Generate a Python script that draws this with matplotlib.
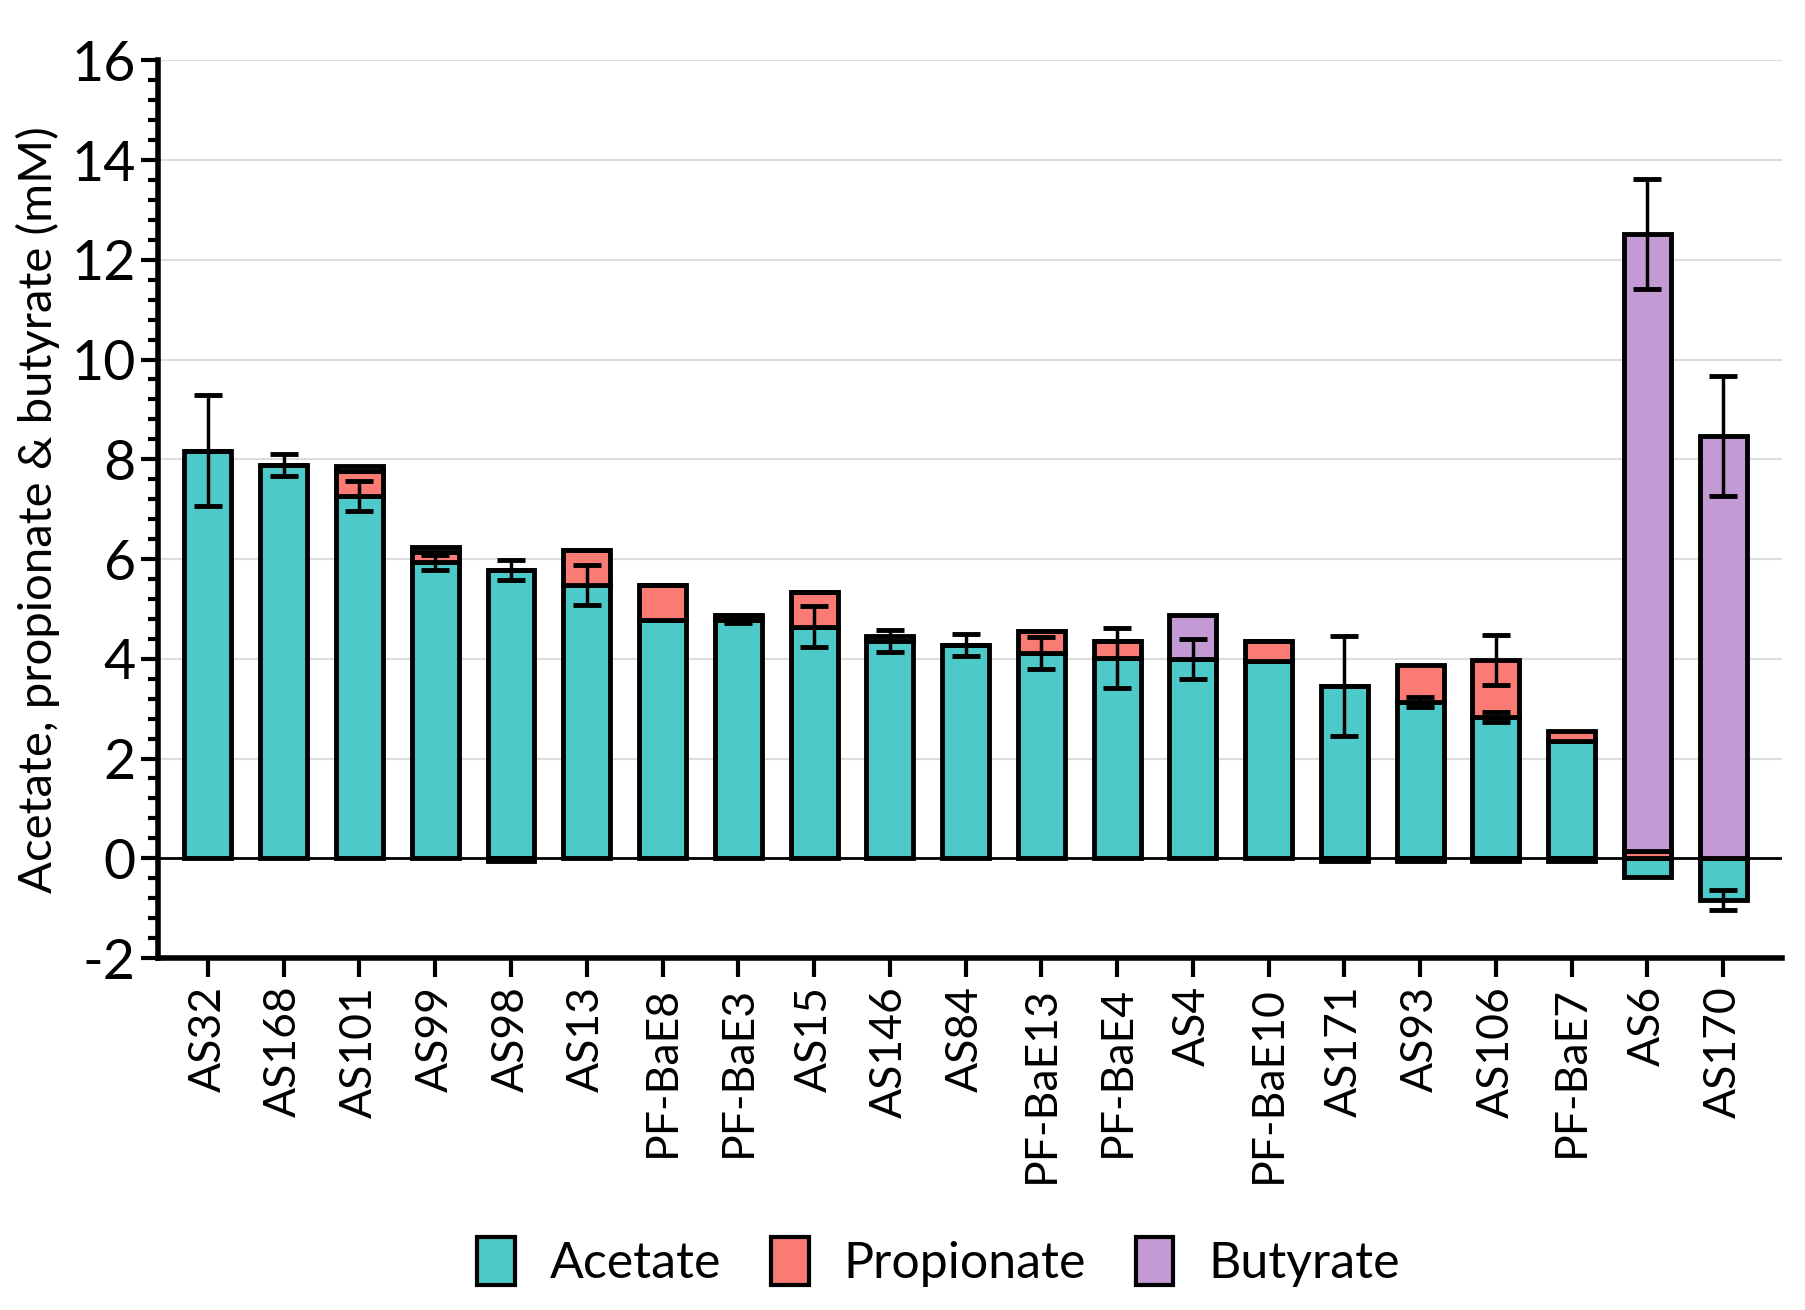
import matplotlib
matplotlib.use("Agg")
import matplotlib.pyplot as plt
import numpy as np
from matplotlib.patches import Patch
from matplotlib.ticker import AutoMinorLocator, MultipleLocator

plt.rcParams["font.family"] = ["Lato", "DejaVu Sans"]
plt.rcParams["axes.unicode_minus"] = False

strains = ["AS32", "AS168", "AS101", "AS99", "AS98", "AS13", "PF-BaE8", "PF-BaE3",
           "AS15", "AS146", "AS84", "PF-BaE13", "PF-BaE4", "AS4", "PF-BaE10",
           "AS171", "AS93", "AS106", "PF-BaE7", "AS6", "AS170"]

acetate = [8.17, 7.88, 7.26, 5.93, 5.78, 5.47, 4.77, 4.77, 4.64, 4.35, 4.27,
           4.11, 4.01, 4.00, 3.95, 3.46, 3.14, 2.83, 2.36, -0.37, -0.84]
propionate = [0, 0, 0.50, 0.22, 0, 0.71, 0.70, 0.10, 0.70, 0, 0,
              0.45, 0.34, 0, 0.40, 0, 0.73, 1.14, 0.20, 0.15, 0]
butyrate = [0, 0, 0.10, 0.10, -0.06, 0, 0, 0, 0, 0.10, 0,
            0, 0, 0.87, 0, -0.06, -0.06, -0.06, -0.06, 12.36, 8.47]

acetate_err = [1.11, 0.22, 0.30, 0.15, 0.20, 0.40, 0, 0.06, 0.41, 0.22, 0.22,
               0.32, 0.60, 0.40, 0, 1.00, 0.10, 0.10, 0, 0, 0.20]
propionate_err = [0, 0, 0, 0, 0, 0, 0, 0, 0, 0, 0,
                  0, 0, 0, 0, 0, 0, 0.50, 0, 0, 0]
butyrate_err = [0, 0, 0, 0, 0, 0, 0, 0, 0, 0, 0,
                0, 0, 0, 0, 0, 0, 0, 0, 1.10, 1.20]

series = [("Acetate", acetate, acetate_err, "#4ec9ca"),
          ("Propionate", propionate, propionate_err, "#fa7a74"),
          ("Butyrate", butyrate, butyrate_err, "#c49ad5")]

fig = plt.figure(figsize=(18.05, 13.10), dpi=100)
ax = fig.add_axes([0.0875, 0.2687, 0.8995, 0.6853])

x = np.arange(len(strains))
width = 0.62
pos_bottom = np.zeros(len(strains))
neg_bottom = np.zeros(len(strains))

# stack positives upward and negatives downward from zero
for name, vals, errs, color in series:
    vals = np.array(vals, dtype=float)
    errs = np.array(errs, dtype=float)
    bottom = np.where(vals >= 0, pos_bottom, neg_bottom)
    ax.bar(x, vals, width, bottom=bottom, color=color, edgecolor="black",
           linewidth=3.5, zorder=3)
    top = bottom + vals
    mask = errs > 0
    ax.errorbar(x[mask], top[mask], yerr=errs[mask], fmt="none", ecolor="black",
                elinewidth=2.5, capsize=10, capthick=3.5, zorder=4)
    pos_bottom = np.where(vals >= 0, pos_bottom + vals, pos_bottom)
    neg_bottom = np.where(vals < 0, neg_bottom + vals, neg_bottom)

ax.axhline(0, color="black", linewidth=2, zorder=5)
ax.set_ylim(-2, 16)
ax.set_xlim(-0.66, 20.77)
ax.yaxis.set_major_locator(MultipleLocator(2))
ax.yaxis.set_minor_locator(AutoMinorLocator(5))
ax.grid(axis="y", color="#dddddd", linewidth=1.5, zorder=0)

for side in ["top", "right"]:
    ax.spines[side].set_visible(False)
for side in ["left", "bottom"]:
    ax.spines[side].set_linewidth(4)

ax.set_xticks(x)
ax.set_xticklabels(strains, rotation=90, fontsize=32)
ax.tick_params(axis="y", which="major", labelsize=40, length=12, width=3, pad=4)
ax.tick_params(axis="y", which="minor", length=7, width=3)
ax.tick_params(axis="x", length=14, width=3, pad=6)
ax.set_ylabel("Acetate, propionate & butyrate (mM)", fontsize=34, labelpad=8)

handles = [Patch(facecolor=c, edgecolor="black", linewidth=3, label=n)
           for n, _, _, c in series]
fig.legend(handles=handles, loc="center", ncol=3, frameon=False,
           fontsize=36, bbox_to_anchor=(0.52, 0.037), handlelength=0.75,
           handleheight=1.1, columnspacing=1.0, handletextpad=0.7)

fig.savefig("out.png", dpi=100)
